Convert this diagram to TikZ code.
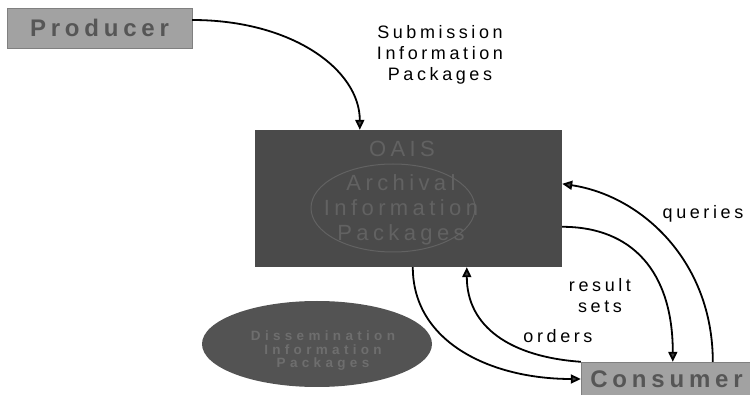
\documentclass[tikz,border=0pt]{standalone}
\usepackage{fontspec}
\setmainfont{Liberation Sans}
\newfontfamily\spaced[LetterSpace=20]{Liberation Sans}
\newfontfamily\widespaced[LetterSpace=32]{Liberation Sans}
\usetikzlibrary{arrows.meta, shapes.geometric}
\definecolor{boxdark}{HTML}{4A4A4A}
\definecolor{boxtext}{HTML}{626262}
\definecolor{dipfill}{HTML}{535353}
\definecolor{diptext}{HTML}{6E6E6E}
\definecolor{actorfill}{HTML}{A2A2A2}
\definecolor{actortext}{HTML}{565656}

\begin{document}
\begin{tikzpicture}[x=1pt, y=-1pt,
    flow/.style={line width=1.8pt, -{Triangle[length=10pt, width=9pt, fill=darkgray]}},
    tag/.style={font=\spaced\fontsize{18}{21}\selectfont, align=center, inner sep=0pt},
    actor/.style={draw=gray, fill=actorfill, text=actortext, inner sep=0pt,
        font=\spaced\bfseries\fontsize{24}{24}\selectfont}]
    \useasboundingbox (0,0) rectangle (750,395);
    % actors and archive
    \node[actor, minimum width=185pt, minimum height=40pt] (producer) at (99.5,28) {Producer};
    \node[actor, minimum width=171pt, minimum height=34pt] (consumer) at (666.5,379) {Consumer};
    \node[fill=boxdark, minimum width=307pt, minimum height=137pt] (oais) at (408.5,198.5) {};
    \node[text=boxtext, font=\spaced\fontsize{22}{25}\selectfont, inner sep=0pt] (oaisname) at (402,149) {OAIS};
    \node[ellipse, draw=boxtext, line width=1pt, minimum width=164pt, minimum height=88pt] (aip) at (393,208) {};
    \node[text=boxtext, font=\spaced\fontsize{22}{25}\selectfont, align=center, inner sep=0pt] (aiptext) at (401,210) {Archival\\Information\\Packages};
    \node[ellipse, fill=dipfill, minimum width=230pt, minimum height=86pt] (dip) at (317,344) {};
    \node[text=diptext, font=\widespaced\bfseries\fontsize{13.5}{13.5}\selectfont, align=center, inner sep=0pt] (diptext) at (323,351) {Dissemination\\Information\\Packages};
    % labels
    \node[tag] (sip) at (440,55) {Submission\\Information\\Packages};
    \node[tag] (queries) at (703,214) {queries};
    \node[tag] (results) at (600,296) {result\\sets};
    \node[tag] (orders) at (558,336) {orders};
    % flows
    \draw[flow] ([yshift=8pt]producer.east) .. controls +(100,0) and +(0,-60) .. ([xshift=105pt]oais.north west);
    \draw[flow] ([xshift=158pt]oais.south west) .. controls +(0,75) and +(-90,0) .. (consumer.west);
    \draw[flow] (consumer.north west) .. controls +(-70,-5) and +(0,60) .. ([xshift=212pt]oais.south west);
    \draw[flow] ([yshift=-97pt]oais.north east) .. controls +(70,0) and +(0,-90) .. ([xshift=92pt]consumer.north west);
    \draw[flow] ([xshift=132pt]consumer.north west) .. controls +(0,-100) and +(80,12) .. ([yshift=-54pt]oais.north east);
\end{tikzpicture}
\end{document}
